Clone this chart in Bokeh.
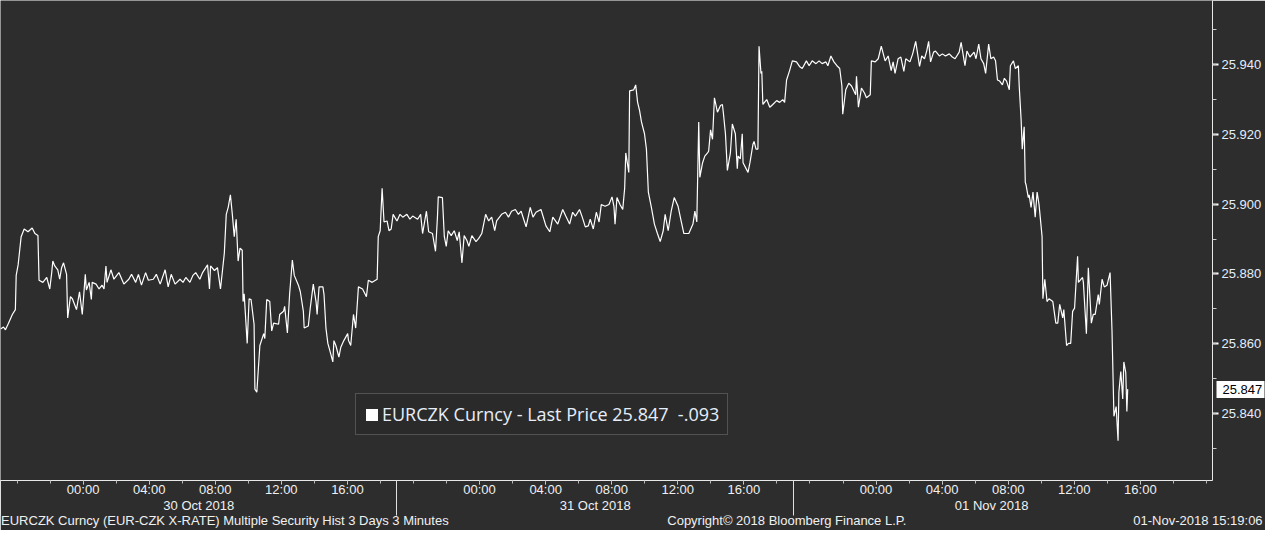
import pandas as pd
from bokeh.plotting import figure
from bokeh.models import (Range1d, DatetimeAxis, LinearAxis, FixedTicker, SingleIntervalTicker,
                          DatetimeTickFormatter, NumeralTickFormatter, Legend, LegendItem,
                          ColumnDataSource)
from bokeh.embed import file_html
from bokeh.resources import INLINE

# ---------------- data ----------------
SESSION_START = "2018-10-29 19:00"
VIEW_MINUTES = 4402
DAYS = ["2018-10-30", "2018-10-31", "2018-11-01"]
TIME_LABEL_HOURS = [0, 4, 8, 12, 16]

minutes = [
    0, 11, 18, 29, 43, 54, 57, 64, 75, 86,
    100, 115, 125, 136, 140, 154, 168, 179, 186, 190,
    197, 208, 215, 222, 229, 240, 244, 254, 261, 276,
    287, 297, 308, 312, 322, 330, 333, 347, 358, 369,
    376, 383, 387, 401, 412, 430, 448, 466, 476, 491,
    501, 512, 527, 537, 555, 566, 580, 598, 609, 620,
    634, 652, 663, 673, 688, 699, 709, 724, 734, 752,
    759, 763, 777, 788, 799, 813, 820, 827, 835, 842,
    849, 856, 863, 870, 878, 881, 885, 896, 903, 910,
    921, 924, 931, 942, 956, 960, 967, 978, 985, 992,
    1010, 1014, 1028, 1032, 1042, 1050, 1060, 1067,
    1082, 1089, 1100, 1103, 1118, 1125, 1136, 1146, 1150, 1157,
    1171, 1175, 1182, 1189, 1196, 1207, 1211, 1218, 1229, 1236,
    1247, 1261, 1264, 1272, 1282, 1290, 1300, 1315, 1329, 1336,
    1350, 1368, 1372, 1379, 1386, 1393, 1404, 1411, 1419, 1426,
    1440, 1451, 1461, 1476, 1487, 1497, 1515, 1526, 1533, 1547,
    1555, 1569, 1580, 1587, 1590, 1605, 1612, 1619, 1626, 1637,
    1648, 1659, 1666, 1676, 1684, 1694, 1701, 1712, 1727, 1737,
    1748, 1762, 1773, 1784, 1795, 1802, 1820, 1834, 1845, 1856,
    1870, 1881, 1891, 1909, 1924, 1934, 1945, 1963, 1981, 1995,
    2006, 2024, 2042, 2053, 2067, 2078, 2088, 2103,
    2113, 2124, 2135, 2142, 2153, 2164, 2174, 2182, 2196, 2210,
    2221, 2228, 2232, 2239, 2250, 2260, 2267, 2271, 2282, 2285,
    2300, 2307, 2314, 2321, 2328, 2339, 2346, 2353, 2364, 2375,
    2386, 2396, 2407, 2414, 2425, 2436, 2447, 2461, 2472, 2482,
    2500, 2515, 2522, 2529, 2536, 2540, 2550, 2558, 2568, 2572,
    2579, 2586, 2593, 2604, 2615, 2622, 2626, 2633, 2640, 2651,
    2658, 2669, 2676, 2679, 2687, 2694, 2697, 2708, 2715, 2722,
    2733, 2737, 2744, 2751, 2755, 2762, 2765, 2769, 2783, 2794,
    2805, 2819, 2830, 2841, 2848, 2855, 2866, 2876, 2891, 2902,
    2912, 2927, 2937, 2948, 2962, 2973, 2984, 2998, 3005, 3016,
    3027, 3038, 3048, 3056, 3059, 3070, 3081, 3091, 3106, 3109,
    3116, 3127, 3138, 3145,
    3159, 3163, 3177, 3188, 3199, 3213, 3224, 3235, 3242, 3249,
    3260, 3270, 3281, 3288, 3303, 3313, 3324, 3331, 3338, 3346,
    3356, 3364, 3371, 3378, 3389, 3396, 3410, 3421, 3432, 3446,
    3457, 3467, 3482, 3489, 3500, 3503, 3510, 3521, 3536, 3543,
    3553, 3561, 3571, 3578, 3589, 3597, 3607, 3614, 3621, 3629,
    3639, 3646, 3654, 3664, 3668, 3679, 3686, 3697, 3700, 3707,
    3711, 3718, 3722, 3725, 3733, 3736, 3743, 3750, 3758, 3765,
    3772, 3783, 3786, 3793, 3801, 3808, 3822, 3833, 3840, 3847,
    3858, 3862, 3872, 3879, 3887, 3894, 3901, 3912, 3915, 3930,
    3933, 3944, 3951, 3962, 3969, 3976, 3987, 3991, 4001, 4009,
    4019, 4030, 4037, 4044, 4052, 4059, 4062, 4069, 4076, 4080,
    4087, 4091, 4094,
]

prices = [
    25.8642, 25.8648, 25.8640, 25.8659, 25.8684, 25.8698, 25.8796, 25.8826, 25.8907, 25.8929,
    25.8921, 25.8932, 25.8916, 25.8910, 25.8782, 25.8776, 25.8790, 25.8757, 25.8804, 25.8837,
    25.8823, 25.8812, 25.8785, 25.8818, 25.8832, 25.8799, 25.8674, 25.8735, 25.8729, 25.8698,
    25.8749, 25.8684, 25.8799, 25.8754, 25.8776, 25.8727, 25.8776, 25.8771, 25.8757, 25.8768,
    25.8757, 25.8823, 25.8776, 25.8812, 25.8785, 25.8804, 25.8771, 25.8785, 25.8799, 25.8776,
    25.8799, 25.8768, 25.8804, 25.8782, 25.8785, 25.8799, 25.8771, 25.8812, 25.8763, 25.8799,
    25.8771, 25.8785, 25.8776, 25.8790, 25.8776, 25.8796, 25.8804, 25.8785, 25.8804, 25.8826,
    25.8757, 25.8823, 25.8810, 25.8818, 25.8757, 25.8860, 25.8971, 25.8991, 25.9027, 25.8971,
    25.8907, 25.8957, 25.8837, 25.8874, 25.8868, 25.8721, 25.8743, 25.8601, 25.8729, 25.8727,
    25.8656, 25.8470, 25.8461, 25.8595, 25.8629, 25.8615, 25.8727, 25.8721, 25.8637, 25.8659,
    25.8656, 25.8684, 25.8693, 25.8707, 25.8631, 25.8741, 25.8840, 25.8796,
    25.8768, 25.8749, 25.8693, 25.8645, 25.8651, 25.8702, 25.8771, 25.8721, 25.8684, 25.8763,
    25.8763, 25.8741, 25.8645, 25.8601, 25.8581, 25.8548, 25.8609, 25.8595, 25.8562, 25.8590,
    25.8609, 25.8629, 25.8609, 25.8595, 25.8684, 25.8645, 25.8763, 25.8757, 25.8735, 25.8782,
    25.8776, 25.8785, 25.8907, 25.8924, 25.9046, 25.8949, 25.8952, 25.8924, 25.8929, 25.8971,
    25.8952, 25.8971, 25.8963, 25.8971, 25.8957, 25.8966, 25.8957, 25.8971, 25.8916, 25.8980,
    25.8921, 25.8916, 25.8865, 25.8963, 25.9021, 25.9019, 25.8907, 25.8879, 25.8924, 25.8910,
    25.8924, 25.8896, 25.8921, 25.8832, 25.8910, 25.8896, 25.8879, 25.8910, 25.8893, 25.8902,
    25.8916, 25.8971, 25.8952, 25.8963, 25.8924, 25.8952, 25.8971, 25.8977, 25.8963, 25.8980,
    25.8985, 25.8971, 25.8980, 25.8935, 25.8991, 25.8963, 25.8977, 25.8985, 25.8938, 25.8921,
    25.8963, 25.8943, 25.8985, 25.8966, 25.8943, 25.8977, 25.8966, 25.8985,
    25.8963, 25.8935, 25.8938, 25.8957, 25.8929, 25.8977, 25.8949, 25.8999, 25.8994, 25.8999,
    25.9021, 25.8994, 25.8943, 25.9019, 25.8999, 25.8985, 25.9046, 25.9147, 25.9091, 25.9325,
    25.9328, 25.9342, 25.9292, 25.9269, 25.9236, 25.9202, 25.9158, 25.9035, 25.8991, 25.8943,
    25.8916, 25.8893, 25.8924, 25.8971, 25.8924, 25.8980, 25.9019, 25.8994, 25.8952, 25.8916,
    25.8916, 25.8943, 25.8980, 25.8949, 25.9236, 25.9077, 25.9119, 25.9138, 25.9147, 25.9152,
    25.9213, 25.9186, 25.9305, 25.9264, 25.9283, 25.9286, 25.9258, 25.9202, 25.9097, 25.9147,
    25.9230, 25.9202, 25.9102, 25.9138, 25.9130, 25.9202, 25.9119, 25.9102, 25.9091, 25.9119,
    25.9172, 25.9180, 25.9158, 25.9158, 25.9453, 25.9375, 25.9381, 25.9286, 25.9300, 25.9278,
    25.9286, 25.9297, 25.9292, 25.9300, 25.9292, 25.9356, 25.9383, 25.9411, 25.9408, 25.9395,
    25.9389, 25.9411, 25.9397, 25.9411, 25.9403, 25.9411, 25.9403, 25.9408, 25.9397, 25.9425,
    25.9408, 25.9397, 25.9389, 25.9339, 25.9258, 25.9328, 25.9347, 25.9339, 25.9314, 25.9367,
    25.9278, 25.9333, 25.9319, 25.9305,
    25.9314, 25.9411, 25.9408, 25.9417, 25.9453, 25.9411, 25.9425, 25.9383, 25.9408, 25.9375,
    25.9417, 25.9422, 25.9381, 25.9417, 25.9408, 25.9431, 25.9467, 25.9431, 25.9395, 25.9425,
    25.9417, 25.9439, 25.9467, 25.9408, 25.9436, 25.9439, 25.9425, 25.9431, 25.9425, 25.9431,
    25.9422, 25.9417, 25.9436, 25.9464, 25.9411, 25.9397, 25.9439, 25.9422, 25.9436, 25.9417,
    25.9459, 25.9417, 25.9403, 25.9375, 25.9459, 25.9417, 25.9422, 25.9411, 25.9356, 25.9353,
    25.9342, 25.9361, 25.9353, 25.9328, 25.9397, 25.9411, 25.9389, 25.9397, 25.9339, 25.9241,
    25.9158, 25.9222, 25.9063, 25.9055, 25.9019, 25.9027, 25.8991, 25.9035, 25.8963, 25.9035,
    25.8999, 25.8907, 25.8729, 25.8785, 25.8721, 25.8729, 25.8721, 25.8659, 25.8659, 25.8713,
    25.8674, 25.8698, 25.8595, 25.8601, 25.8601, 25.8693, 25.8702, 25.8851, 25.8776, 25.8790,
    25.8776, 25.8629, 25.8818, 25.8659, 25.8684, 25.8684, 25.8741, 25.8713, 25.8785, 25.8763,
    25.8768, 25.8804, 25.8637, 25.8392, 25.8420, 25.8322, 25.8461, 25.8520, 25.8442, 25.8548,
    25.8517, 25.8406, 25.8470,
]

Y_MIN, Y_MAX = 25.8208, 25.9584
LAST_PRICE = 25.847
LEGEND_TEXT = "EURCZK Curncy - Last Price 25.847  -.093"
FOOTER_TEXTS = ["EURCZK Curncy (EUR-CZK X-RATE) Multiple Security Hist   3 Days 3 Minutes",
                "Copyright\u00a9 2018 Bloomberg Finance L.P.",
                "01-Nov-2018 15:19:06"]
FOOTER_AT_MINUTES = [828, 2856, 4349]   # where each footer text is centred

# ---------------- styling ----------------
BG = "#2d2d2d"
TXT = "#f0f0f0"
YTXT = "#e4eefc"
AX_FONT = "Liberation Sans"
AX_SIZE = "13px"


def ms(ts):
    return float(pd.Timestamp(ts).value // 10**6)


n = min(len(minutes), len(prices))
start = pd.Timestamp(SESSION_START)
times = start + pd.to_timedelta(minutes[:n], unit="m")
src = ColumnDataSource(dict(t=times, price=prices[:n]))

x_end = start + pd.Timedelta(minutes=VIEW_MINUTES)

p = figure(width=1265, height=530,
           x_range=Range1d(start, x_end), y_range=Range1d(Y_MIN, Y_MAX),
           x_axis_type=None, y_axis_type=None,
           output_backend="svg", toolbar_location=None,
           background_fill_color=BG, border_fill_color=BG, outline_line_color=None,
           min_border_left=0, min_border_right=52, min_border_top=0, min_border_bottom=50)

p.line(x="t", y="price", source=src, line_color="white", line_width=1.2)

# ---- time-of-day axis
major_time = [ms(pd.Timestamp(d) + pd.Timedelta(hours=h)) for d in DAYS for h in TIME_LABEL_HOURS]
minor_time = [ms(start + pd.Timedelta(hours=1 + 2 * k)) for k in range(37)]
tfmt = "%H:%M"
time_axis = DatetimeAxis(
    ticker=FixedTicker(ticks=major_time, minor_ticks=minor_time),
    formatter=DatetimeTickFormatter(minutes=tfmt, hourmin=tfmt, hours=tfmt, days=tfmt),
    axis_line_color="#e8e8e8", axis_line_width=1,
    major_tick_line_color="#e8e8e8", major_tick_out=4, major_tick_in=0,
    minor_tick_line_color="#bbbbbb", minor_tick_out=3, minor_tick_in=0,
    major_label_standoff=-3, axis_label_standoff=0, major_label_text_font=AX_FONT,
    major_label_text_font_size=AX_SIZE, major_label_text_color=TXT)
p.add_layout(time_axis, "below")

# ---- date axis
day_centers = [ms(pd.Timestamp(d) + pd.Timedelta(hours=7)) for d in DAYS]
day_bounds = [ms(start + pd.Timedelta(days=k)) for k in range(3)]
dfmt = "%d %b %Y"
date_axis = DatetimeAxis(
    ticker=FixedTicker(ticks=day_centers),
    formatter=DatetimeTickFormatter(hourmin=dfmt, hours=dfmt, days=dfmt, months=dfmt),
    axis_line_color=None, major_tick_line_color=None, minor_tick_line_color=None,
    major_label_standoff=-8, axis_label_standoff=0, major_label_text_font=AX_FONT,
    major_label_text_font_size=AX_SIZE, major_label_text_color=TXT)
p.add_layout(date_axis, "below")

# ---- footer line; its minor ticks (pointing up) are the day separators
footer_ticks = [ms(start + pd.Timedelta(minutes=m)) for m in FOOTER_AT_MINUTES]
footer_axis = LinearAxis(
    ticker=FixedTicker(ticks=footer_ticks, minor_ticks=day_bounds),
    major_label_overrides={t: s for t, s in zip(footer_ticks, FOOTER_TEXTS)},
    axis_line_color=None, major_tick_line_color=None,
    minor_tick_line_color="#e0e0e0", minor_tick_in=35, minor_tick_out=0,
    major_label_standoff=-9, axis_label_standoff=0, major_label_text_font=AX_FONT,
    major_label_text_font_size=AX_SIZE, major_label_text_color=TXT)
p.add_layout(footer_axis, "below")

# ---- right price axis
y_axis = LinearAxis(
    ticker=SingleIntervalTicker(interval=0.02, num_minor_ticks=2),
    formatter=NumeralTickFormatter(format="0.000"),
    axis_line_color="#e8e8e8", axis_line_width=1,
    major_tick_line_color="white", major_tick_line_width=2, major_tick_out=6, major_tick_in=0,
    minor_tick_line_color="#cccccc", minor_tick_out=4, minor_tick_in=0,
    major_label_standoff=3, major_label_text_font=AX_FONT,
    major_label_text_font_size=AX_SIZE, major_label_text_color=YTXT)
p.add_layout(y_axis, "right")

# ---- last-price tag: a thick white tick with the price written on it
tag_axis = LinearAxis(
    ticker=FixedTicker(ticks=[LAST_PRICE]),
    formatter=NumeralTickFormatter(format="0.000"),
    axis_line_color=None, minor_tick_line_color=None,
    major_tick_line_color="white", major_tick_line_width=17,
    major_tick_in=48, major_tick_out=0,
    major_label_standoff=-42, major_label_text_font=AX_FONT,
    major_label_text_font_size=AX_SIZE, major_label_text_color="black")
p.add_layout(tag_axis, "right")

# ---- legend with a white square (zero-size quad at the last observation)
last_t, last_p = times[-1], prices[n - 1]
sq = p.quad(left=[last_t], right=[last_t], top=[last_p], bottom=[last_p],
            fill_color="white", line_color="white", line_width=0)
legend = Legend(items=[LegendItem(label=LEGEND_TEXT, renderers=[sq])],
                location=(355, 45),
                label_text_font="Open Sans", label_text_font_size="18px", label_text_color="#e6eefa",
                glyph_width=15, glyph_height=15, label_standoff=3, label_height=20,
                padding=8, margin=0, spacing=0,
                border_line_color="#7a7a7a", border_line_width=1,
                background_fill_color="#2a2a2a", background_fill_alpha=1)
p.add_layout(legend)

open("out.html", "w").write(file_html(p, INLINE, title="EURCZK"))
